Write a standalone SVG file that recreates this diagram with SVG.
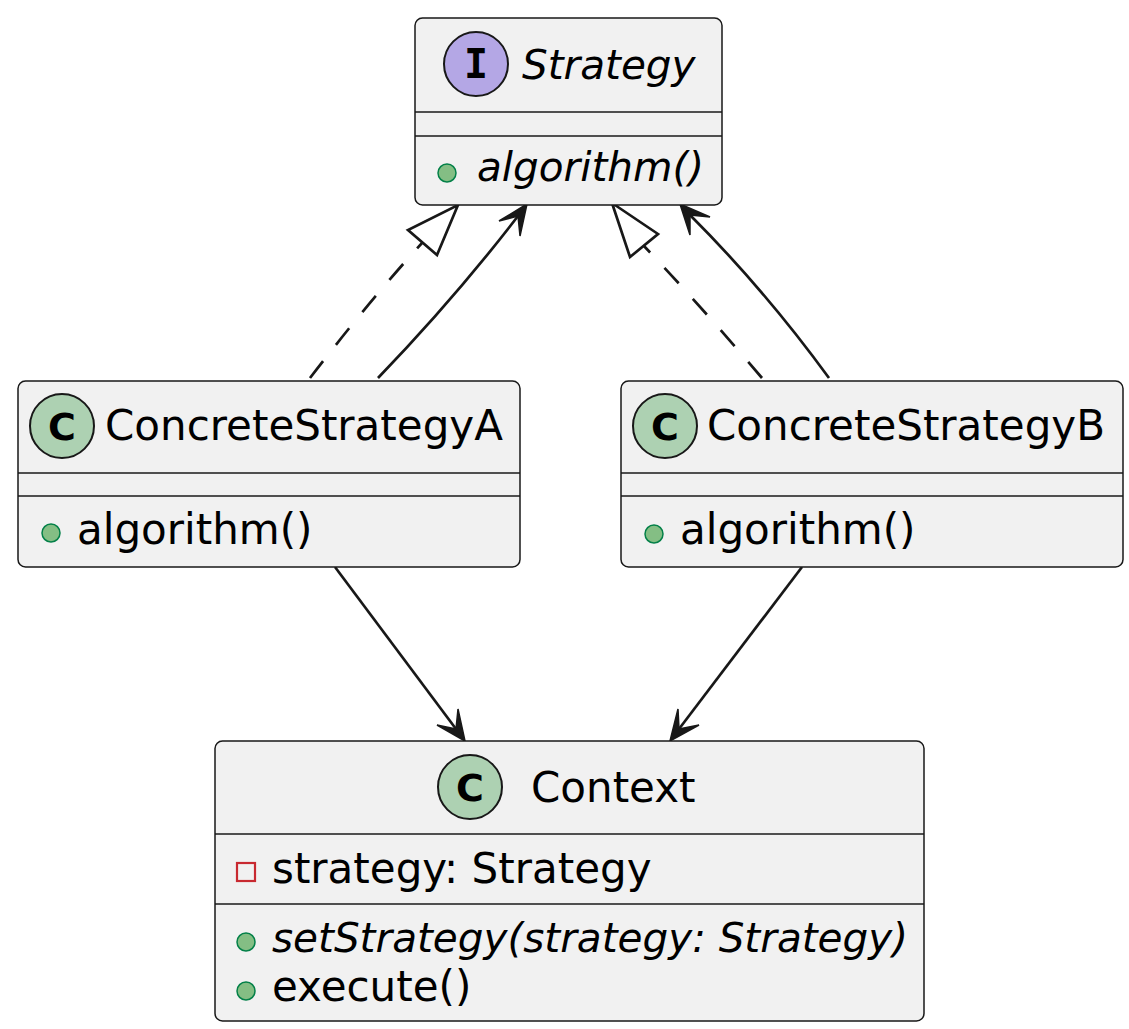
<svg xmlns="http://www.w3.org/2000/svg" width="1129" height="1029" viewBox="0 0 1129 1029">
<style>
.box{fill:#F1F1F1;stroke:#181818;stroke-width:1.5}
.sep{stroke:#181818;stroke-width:1.5}
.cc{fill:#ADD1B2;stroke:#181818;stroke-width:2}
.ic{fill:#B4A7E5;stroke:#181818;stroke-width:2}
.glyph{font-family:"DejaVu Sans",sans-serif;font-weight:bold;font-size:38px;fill:#000;text-anchor:middle}
.glyphI{font-family:"DejaVu Sans Mono",monospace;font-weight:bold;font-size:40px;fill:#000;text-anchor:middle}
.t{font-family:"DejaVu Sans",sans-serif;font-size:42px;fill:#000}
.ti{font-family:"DejaVu Sans",sans-serif;font-size:40.5px;font-style:italic;fill:#000}
.pub{fill:#84BE84;stroke:#038048;stroke-width:1.5}
.priv{fill:none;stroke:#C82930;stroke-width:2.2}
.ln{fill:none;stroke:#181818;stroke-width:2.7}
.dash{fill:none;stroke:#181818;stroke-width:2.7;stroke-dasharray:21,21}
.head{fill:#181818;stroke:#181818;stroke-width:1.5}
.tri{fill:none;stroke:#181818;stroke-width:2.7;stroke-linejoin:miter}
</style>
<rect width="1129" height="1029" fill="#FFFFFF"/>

<g id="connectors">
  <!-- ConcreteStrategyA ..|> Strategy -->
  <path class="dash" d="M310,378 Q370,300 422,243"/>
  <polygon class="tri" points="458,205 437,255 408,230"/>
  <!-- ConcreteStrategyA --> Strategy -->
  <path class="ln" d="M378,378 Q455,298 518,216"/>
  <polygon class="head" points="527,204 499,221 518,216 520,236"/>
  <!-- ConcreteStrategyB ..|> Strategy -->
  <path class="dash" d="M762,378 Q700,305 644,246"/>
  <polygon class="tri" points="612,203 658,234 630,257"/>
  <!-- ConcreteStrategyB --> Strategy -->
  <path class="ln" d="M829,378 Q765,290 690,215"/>
  <polygon class="head" points="680,204 710,217 690,215 690,235"/>
  <!-- ConcreteStrategyA --> Context -->
  <path class="ln" d="M335,567 L456,729"/>
  <polygon class="head" points="465,741 437,725 456,729 458,709"/>
  <!-- ConcreteStrategyB --> Context -->
  <path class="ln" d="M802,567 L679,729"/>
  <polygon class="head" points="670,741 678,709 679,729 699,725"/>
</g>

<g id="Strategy">
  <rect class="box" x="415" y="18" width="307" height="187" rx="7.5"/>
  <line class="sep" x1="415" y1="112" x2="722" y2="112"/>
  <line class="sep" x1="415" y1="136" x2="722" y2="136"/>
  <circle class="ic" cx="476" cy="64" r="32"/>
  <text class="glyphI" x="476" y="78">I</text>
  <text class="ti" x="522" y="79">Strategy</text>
  <circle class="pub" cx="447" cy="173" r="9"/>
  <text class="ti" x="477" y="181">algorithm()</text>
</g>

<g id="ConcreteStrategyA">
  <rect class="box" x="18" y="381" width="502" height="186" rx="7.5"/>
  <line class="sep" x1="18" y1="473" x2="520" y2="473"/>
  <line class="sep" x1="18" y1="496" x2="520" y2="496"/>
  <circle class="cc" cx="62" cy="426" r="32"/>
  <text class="glyph" x="62" y="440">C</text>
  <text class="t" x="105" y="440">ConcreteStrategyA</text>
  <circle class="pub" cx="51" cy="533" r="9"/>
  <text class="t" x="77" y="544">algorithm()</text>
</g>

<g id="ConcreteStrategyB">
  <rect class="box" x="621" y="381" width="502" height="186" rx="7.5"/>
  <line class="sep" x1="621" y1="473" x2="1123" y2="473"/>
  <line class="sep" x1="621" y1="496" x2="1123" y2="496"/>
  <circle class="cc" cx="665" cy="426" r="32"/>
  <text class="glyph" x="665" y="440">C</text>
  <text class="t" x="707" y="440">ConcreteStrategyB</text>
  <circle class="pub" cx="654" cy="534" r="9"/>
  <text class="t" x="680" y="544">algorithm()</text>
</g>

<g id="Context">
  <rect class="box" x="215" y="741" width="709" height="280" rx="7.5"/>
  <line class="sep" x1="215" y1="834" x2="924" y2="834"/>
  <line class="sep" x1="215" y1="904" x2="924" y2="904"/>
  <circle class="cc" cx="470" cy="787" r="32"/>
  <text class="glyph" x="470" y="801">C</text>
  <text class="t" x="531" y="802">Context</text>
  <rect class="priv" x="237" y="863" width="18" height="18"/>
  <text class="t" x="272" y="883">strategy: Strategy</text>
  <circle class="pub" cx="246" cy="942" r="9"/>
  <text class="ti" x="272" y="952">setStrategy(strategy: Strategy)</text>
  <circle class="pub" cx="246" cy="991" r="9"/>
  <text class="t" x="272" y="1001">execute()</text>
</g>
</svg>
